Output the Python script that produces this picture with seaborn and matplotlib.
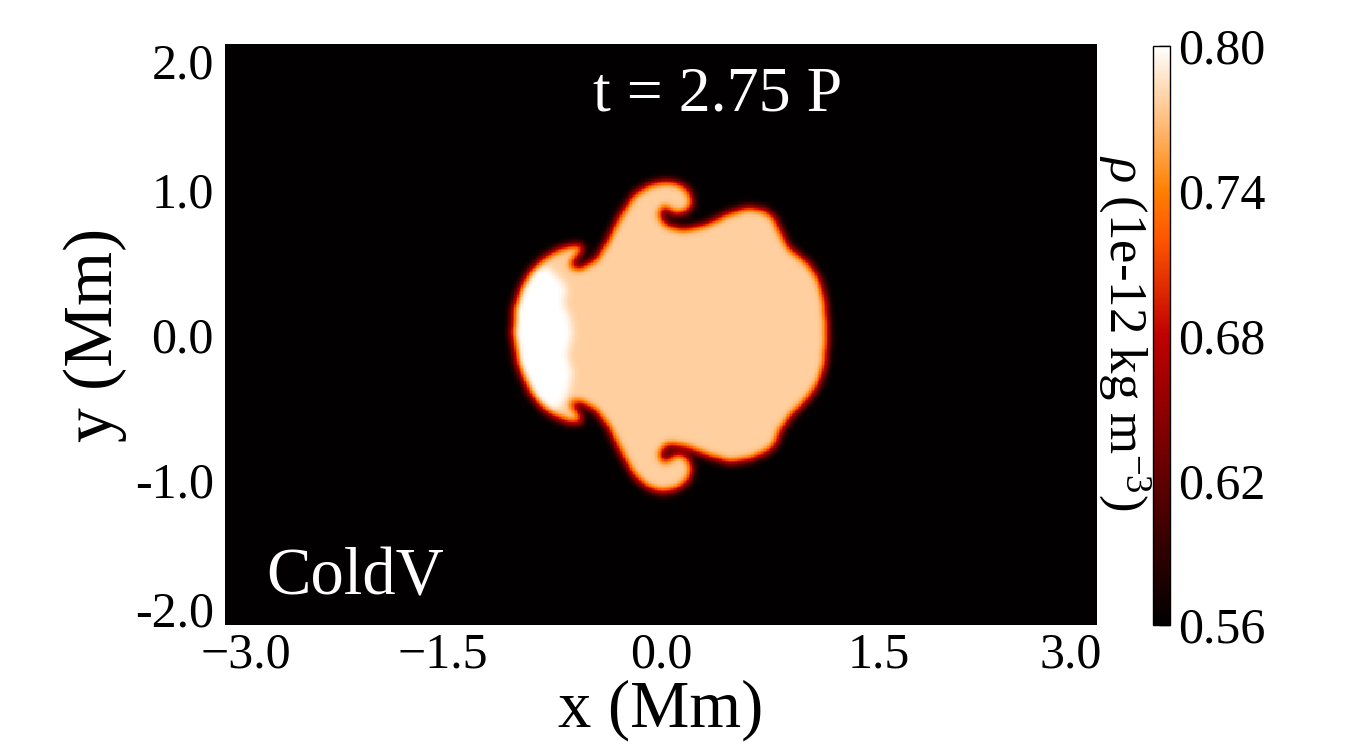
import numpy as np
import matplotlib
matplotlib.use("Agg")
import matplotlib.pyplot as plt
from matplotlib.path import Path
from matplotlib.transforms import ScaledTranslation
import seaborn as sns

# Outline of the dense blob in Mm (clockwise from the left tip)
blob_x = [-1.028, -1.016, -0.970, -0.901, -0.810, -0.695, -0.580, -0.523, -0.569, -0.626,
          -0.557, -0.454, -0.374, -0.282, -0.190, -0.076, 0.039, 0.142, 0.211, 0.222,
          0.165, 0.085, 0.027, -0.007, 0.050, 0.165, 0.314, 0.475, 0.590, 0.704,
          0.784, 0.819, 0.888, 1.014, 1.099, 1.140, 1.151, 1.140, 1.094, 1.014,
          0.911, 0.830, 0.796, 0.727, 0.613, 0.475, 0.314, 0.177, 0.050, -0.007,
          0.027, 0.096, 0.177, 0.222, 0.200, 0.119, 0.005, -0.099, -0.190, -0.282,
          -0.374, -0.454, -0.557, -0.626, -0.557, -0.534, -0.638, -0.787, -0.901, -0.989]
blob_y = [0.008, 0.192, 0.329, 0.444, 0.536, 0.600, 0.628, 0.600, 0.536, 0.472,
          0.462, 0.524, 0.651, 0.834, 0.972, 1.041, 1.064, 1.041, 0.972, 0.892,
          0.830, 0.823, 0.880, 0.823, 0.754, 0.731, 0.765, 0.846, 0.880, 0.869,
          0.811, 0.731, 0.600, 0.502, 0.375, 0.215, 0.008, -0.198, -0.336, -0.451,
          -0.554, -0.657, -0.761, -0.818, -0.864, -0.887, -0.841, -0.784, -0.761, -0.818,
          -0.876, -0.814, -0.830, -0.910, -1.002, -1.070, -1.093, -1.059, -0.979, -0.818,
          -0.634, -0.531, -0.469, -0.474, -0.538, -0.612, -0.612, -0.543, -0.416, -0.221]

# Bright (compressed) front on the left side of the blob
front_x = [-1.062, -0.787, -0.718, -0.645, -0.672, -0.622, -0.608, -0.645, -0.608, -0.638, -0.695, -1.062]
front_y = [0.444, 0.467, 0.410, 0.318, 0.215, 0.111, -0.003, -0.141, -0.267, -0.405, -0.508, -0.543]

rho_bg = 0.561
rho_core = 0.777
rho_front = 0.800

x_ticks = [-3.0, -1.5, 0.0, 1.5, 3.0]
x_labels = ["\u22123.0", "\u22121.5", "0.0", "1.5", "3.0"]
y_ticks = [2.0, 1.0, 0.0, -1.0, -2.0]
y_labels = ["2.0", "1.0", "0.0", "-1.0", "-2.0"]
cbar_ticks = [0.56, 0.62, 0.68, 0.74, 0.80]
cbar_labels = ["0.56", "0.62", "0.68", "0.74", "0.80"]

# density grid, 0.01 Mm cells, row 0 at the top (y = 2)
dx = 0.01
nx, ny = 600, 400
xs = -3.0 + dx / 2 + dx * np.arange(nx)
ys = 2.0 - dx / 2 - dx * np.arange(ny)
XX, YY = np.meshgrid(xs, ys)
pts = np.column_stack([XX.ravel(), YY.ravel()])

blob = Path(np.column_stack([blob_x, blob_y])).contains_points(pts).reshape(ny, nx)
front = Path(np.column_stack([front_x, front_y])).contains_points(pts).reshape(ny, nx) & blob

rho = np.zeros((ny, nx))
rho[blob] = rho_core - rho_bg
rho[front] = rho_front - rho_bg

# soften the edges a little (diffuse boundary)
k = np.exp(-0.5 * (np.arange(-10, 11) / 2.8) ** 2)
k /= k.sum()
rho = np.apply_along_axis(lambda r: np.convolve(r, k, mode="same"), 1, rho)
rho = np.apply_along_axis(lambda c: np.convolve(c, k, mode="same"), 0, rho)
rho = rho + rho_bg

sns.set_theme(style="white")
plt.rcParams["font.family"] = ["Liberation Serif", "DejaVu Serif"]
plt.rcParams["mathtext.fontset"] = "custom"
plt.rcParams["mathtext.rm"] = "Liberation Serif"
plt.rcParams["mathtext.it"] = "Liberation Serif:italic"
plt.rcParams["text.color"] = "black"
plt.rcParams["axes.labelcolor"] = "black"

fig = plt.figure(figsize=(13.5, 7.5), dpi=100)
ax = fig.add_axes([225 / 1350, 125 / 750, 872 / 1350, 581 / 750])
cax = fig.add_axes([1153 / 1350, 125 / 750, 17 / 1350, 579 / 750])

sns.heatmap(rho, ax=ax, cbar_ax=cax, cmap="gist_heat", vmin=0.56, vmax=0.80,
            xticklabels=False, yticklabels=False, rasterized=True)

ax.set_xticks([(v + 3.0) / dx for v in x_ticks])
ax.set_xticklabels(x_labels, rotation=0)
ax.set_yticks([(2.0 - v) / dx for v in y_ticks])
ax.set_yticklabels(y_labels, rotation=0)
ax.tick_params(length=0, labelsize=36, colors="black")
ax.tick_params(axis="x", pad=5)
ax.tick_params(axis="y", pad=8)
ax.set_xlabel("x (Mm)", fontsize=48, labelpad=1)
ax.set_ylabel("y (Mm)", fontsize=50, labelpad=6)

# edge tick labels sit a bit inside the frame, as in the original
def nudge(label, dx_pt, dy_pt):
    label.set_transform(label.get_transform() + ScaledTranslation(dx_pt / 72, dy_pt / 72, fig.dpi_scale_trans))

xl = ax.get_xticklabels()
nudge(xl[0], 15, 0)
nudge(xl[-1], -19, 0)
yl = ax.get_yticklabels()
nudge(yl[0], 0, -12)
nudge(yl[-1], 0, 12)

ax.text(0.565, 0.912, "t = 2.75 P", transform=ax.transAxes, color="white",
        fontsize=46, ha="center", va="center")
ax.text(0.149, 0.081, "ColdV", transform=ax.transAxes, color="white",
        fontsize=48, ha="center", va="center")

cbar = ax.collections[0].colorbar
cbar.set_ticks(cbar_ticks)
cbar.set_ticklabels(cbar_labels)
cbar.outline.set_linewidth(1.0)
cbar.outline.set_edgecolor("black")
cax.tick_params(direction="in", length=8, width=1, labelsize=36, pad=6, colors="black")

fig.text(1124 / 1350, 1 - 333 / 750, r"$\rho$ (1e-12 kg m$^{-3}$)", rotation=270,
         ha="center", va="center", fontsize=38)

fig.savefig("out.png", dpi=100, facecolor="white")
